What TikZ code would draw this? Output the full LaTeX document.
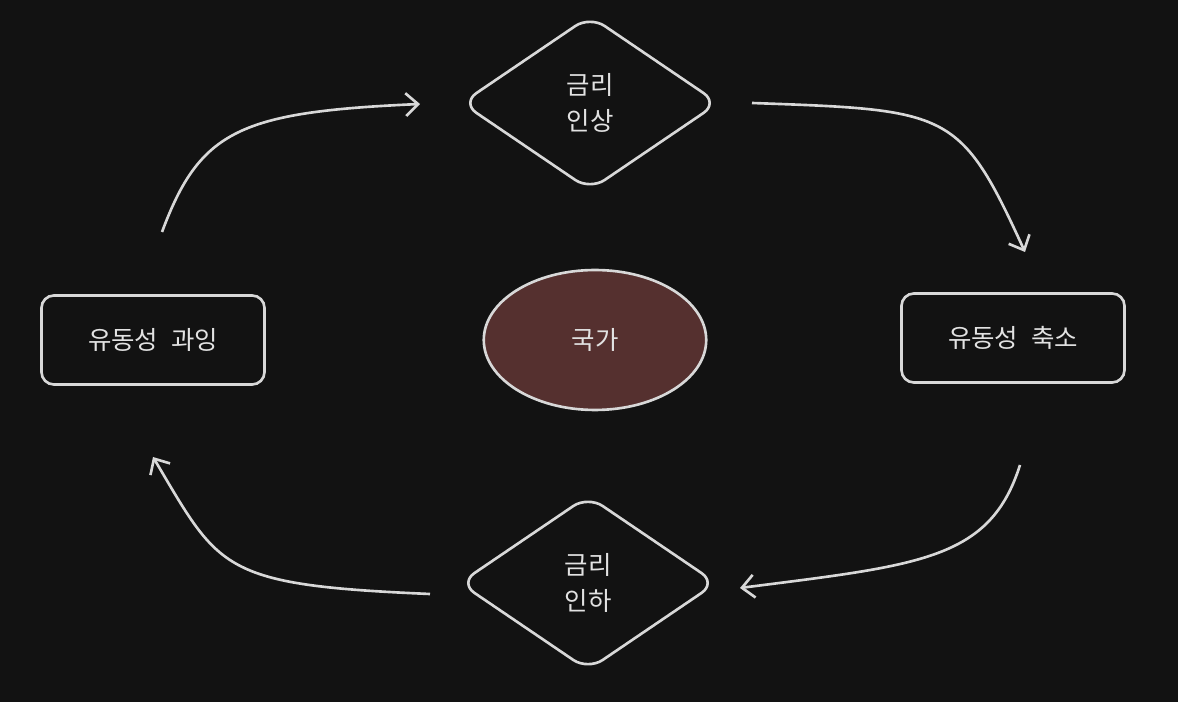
\documentclass[tikz,border=0pt]{standalone}
\usepackage{fontspec}
\usetikzlibrary{shapes.geometric,arrows.meta}
\newfontfamily\kr{Noto Sans CJK KR}
\definecolor{bg}{HTML}{121212}
\definecolor{ln}{HTML}{D8D8D8}
\definecolor{tx}{HTML}{E2E2E2}
\definecolor{red}{HTML}{55302F}
\begin{document}
\begin{tikzpicture}[x=0.02cm,y=-0.02cm,
  shp/.style={draw=ln,line width=1.5pt,text=tx,font=\kr\fontsize{14.5}{20}\selectfont,align=center},
  dia/.style={shp,diamond,aspect=1.5,minimum width=5.15cm,minimum height=3.5cm,rounded corners=10pt},
  box/.style={shp,rectangle,rounded corners=7pt,minimum width=4.46cm,minimum height=1.78cm},
  arr/.style={draw=ln,line width=1.5pt,-{Straight Barb[length=7pt,width=13pt]}}]
\fill[bg] (0,0) rectangle (1178,702);
\node[dia] (up) at (590,103) {금리\\인상};
\node[dia] (dn) at (588,583) {금리\\인하};
\node[box] (l) at (153,340) {유동성\hspace{0.5em}과잉};
\node[box] (r) at (1013,338) {유동성\hspace{0.5em}축소};
\node[shp,ellipse,fill=red,minimum width=4.45cm,minimum height=2.8cm] (c) at (595,340) {국가};
\coordinate (a1) at (162,232); \coordinate (a2) at (420,104);
\coordinate (b1) at (752,103); \coordinate (b2) at (1025,252);
\coordinate (c1) at (1020,465); \coordinate (c2) at (740,588);
\coordinate (d1) at (430,594); \coordinate (d2) at (153,457);
\draw[arr] (a1) .. controls (200,130) and (240,112) .. (a2);
\draw[arr] (b1) .. controls (950,110) and (960,110) .. (b2);
\draw[arr] (c1) .. controls (990,560) and (920,565) .. (c2);
\draw[arr] (d1) .. controls (220,585) and (220,570) .. (d2);
\end{tikzpicture}
\end{document}
